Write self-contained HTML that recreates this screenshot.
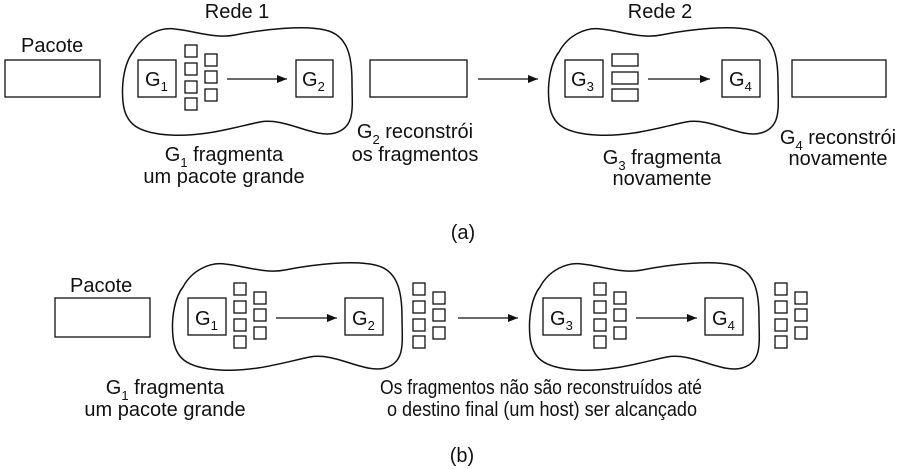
<!DOCTYPE html>
<html><head><meta charset="utf-8"><style>
html,body{margin:0;padding:0;background:#fff;}
svg{display:block;}
text{font-family:"Liberation Sans",sans-serif;font-size:20px;fill:#111;}
.s{font-size:13px;}
</style></head><body>
<svg width="900" height="469" viewBox="0 0 900 469" xmlns="http://www.w3.org/2000/svg">
<defs>
<path id="cloud" d="M 13 25 C 22 8, 40 0, 55 2 C 75 4, 95 12, 115 8 C 145 2, 185 -2, 205 3 C 228 8, 232 30, 232 55 C 232 80, 236 100, 215 106 C 195 112, 165 90, 140 95 C 115 100, 85 110, 50 108 C 15 106, 5 95, 3 75 C 1 55, 5 35, 13 25 Z" fill="none" stroke="#111" stroke-width="1.5"/>
<marker id="ah" markerWidth="10" markerHeight="8" refX="10" refY="4" orient="auto" markerUnits="userSpaceOnUse">
<path d="M0,0 L10,4 L0,8 Z" fill="#111"/></marker>
<g id="frag4">
<rect x="0" y="0" width="12" height="12"/><rect x="0" y="18" width="12" height="12"/><rect x="0" y="36" width="12" height="12"/><rect x="0" y="53" width="12" height="12"/>
<rect x="20" y="9" width="12" height="12"/><rect x="20" y="26" width="12" height="12"/><rect x="20" y="44" width="12" height="12"/>
</g>
</defs>
<g fill="none" stroke="#111" stroke-width="1.3">
<rect x="5" y="60" width="95" height="37"/>
<use href="#cloud" x="120" y="27"/>
<rect x="138" y="60" width="38" height="37"/>
<use href="#frag4" x="185" y="45"/>
<line x1="227" y1="79" x2="287" y2="79" marker-end="url(#ah)"/>
<rect x="296" y="60" width="37" height="37"/>
<rect x="370" y="60" width="97" height="37"/>
<line x1="478" y1="79" x2="538" y2="79" marker-end="url(#ah)"/>
<use href="#cloud" x="546" y="27"/>
<rect x="565" y="60" width="38" height="37"/>
<rect x="612" y="54" width="26" height="12"/><rect x="612" y="72" width="26" height="12"/><rect x="612" y="89" width="26" height="12"/>
<line x1="648" y1="79" x2="710" y2="79" marker-end="url(#ah)"/>
<rect x="722" y="60" width="38" height="37"/>
<rect x="792" y="60" width="94" height="37"/>
<rect x="55" y="298" width="95" height="39"/>
<use href="#cloud" x="170" y="262"/>
<rect x="188" y="298" width="38" height="37"/>
<use href="#frag4" x="234" y="283"/>
<line x1="276" y1="318" x2="337" y2="318" marker-end="url(#ah)"/>
<rect x="345" y="298" width="38" height="37"/>
<use href="#frag4" x="413" y="283"/>
<line x1="458" y1="318" x2="518" y2="318" marker-end="url(#ah)"/>
<use href="#cloud" x="527" y="262"/>
<rect x="543" y="298" width="38" height="37"/>
<use href="#frag4" x="594" y="283"/>
<line x1="636" y1="318" x2="697" y2="318" marker-end="url(#ah)"/>
<rect x="705" y="298" width="38" height="37"/>
<use href="#frag4" x="775" y="283"/>
</g>
<text x="237" y="18" text-anchor="middle">Rede 1</text>
<text x="660" y="18" text-anchor="middle">Rede 2</text>
<text x="21" y="52">Pacote</text>
<text x="145" y="86">G<tspan class="s" dy="5">1</tspan></text>
<text x="302" y="86">G<tspan class="s" dy="5">2</tspan></text>
<text x="571" y="86">G<tspan class="s" dy="5">3</tspan></text>
<text x="729" y="86">G<tspan class="s" dy="5">4</tspan></text>
<text x="224" y="161" text-anchor="middle">G<tspan class="s" dy="6">1</tspan><tspan dy="-6"> fragmenta</tspan></text>
<text x="224" y="183" text-anchor="middle">um pacote grande</text>
<text x="415" y="138" text-anchor="middle">G<tspan class="s" dy="6">2</tspan><tspan dy="-6"> reconstrói</tspan></text>
<text x="415" y="161" text-anchor="middle">os fragmentos</text>
<text x="662" y="164" text-anchor="middle">G<tspan class="s" dy="6">3</tspan><tspan dy="-6"> fragmenta</tspan></text>
<text x="662" y="185" text-anchor="middle">novamente</text>
<text x="838" y="144" text-anchor="middle">G<tspan class="s" dy="6">4</tspan><tspan dy="-6"> reconstrói</tspan></text>
<text x="838" y="165" text-anchor="middle">novamente</text>
<text x="463" y="239" text-anchor="middle">(a)</text>
<text x="70" y="292">Pacote</text>
<text x="195" y="325">G<tspan class="s" dy="5">1</tspan></text>
<text x="352" y="325">G<tspan class="s" dy="5">2</tspan></text>
<text x="550" y="325">G<tspan class="s" dy="5">3</tspan></text>
<text x="712" y="325">G<tspan class="s" dy="5">4</tspan></text>
<text x="165" y="394" text-anchor="middle">G<tspan class="s" dy="6">1</tspan><tspan dy="-6"> fragmenta</tspan></text>
<text x="165" y="416" text-anchor="middle">um pacote grande</text>
<text x="380" y="394" textLength="322" lengthAdjust="spacingAndGlyphs">Os fragmentos não são reconstruídos até</text>
<text x="387" y="416" textLength="310" lengthAdjust="spacingAndGlyphs">o destino final (um host) ser alcançado</text>
<text x="462" y="462" text-anchor="middle">(b)</text>
</svg>
</body></html>
